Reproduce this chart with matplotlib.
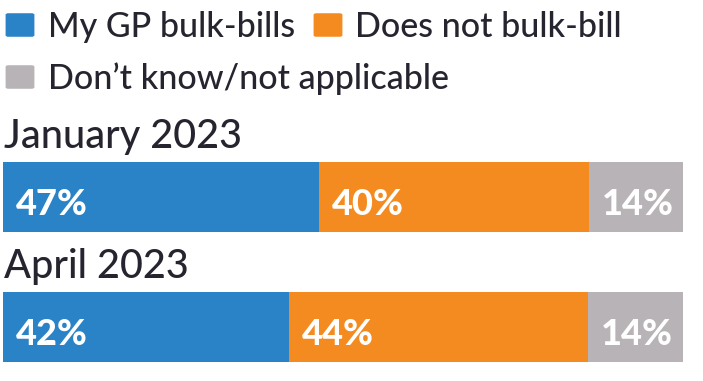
import matplotlib.pyplot as plt
from matplotlib.patches import FancyBboxPatch

# survey data
periods = ['January 2023', 'April 2023']
bulk_bills = [47, 42]
does_not = [40, 44]
dont_know = [14, 14]

series_names = ['My GP bulk-bills', 'Does not bulk-bill', 'Don\u2019t know/not applicable']
colors = ['#2a82c7', '#f48b20', '#b8b3b6']
text_color = '#26242f'

plt.rcParams['font.family'] = ['Lato', 'DejaVu Sans']

W, H = 703, 381
fig = plt.figure(figsize=(W / 100, H / 100), dpi=100)
fig.patch.set_facecolor('white')

def fx(px):
    return px / W

def fy(py):
    return 1 - py / H

# bars axis: pixel span x 3..683, y 162..362
ax = fig.add_axes([fx(3), fy(362), fx(680), (362 - 162) / H])
ax.set_xlim(0, 100)
bar_h = 70 / 130
ax.set_ylim(-bar_h / 2, 1 + bar_h / 2)
ax.axis('off')

ypos = [1, 0]
for i, y in enumerate(ypos):
    vals = [bulk_bills[i], does_not[i], dont_know[i]]
    total = sum(vals)
    left = 0
    for v, c in zip(vals, colors):
        w = v / total * 100
        ax.barh(y, w, left=left, height=bar_h, color=c, edgecolor='none')
        ax.text(left + 1.9, y - 0.06, f'{v}%', color='white', fontsize=26,
                fontweight='black', va='center', ha='left')
        left += w

# period titles
for lbl, py in zip(periods, [148, 278]):
    fig.text(fx(4), fy(py), lbl, fontsize=28.5, color=text_color,
             fontweight='medium', ha='left', va='baseline')

# legend
legend_items = [(5, 12, 48), (313, 12, 355), (5, 64, 48)]
for (sx, sy, tx), name, c in zip(legend_items, series_names, colors):
    sq = FancyBboxPatch((fx(sx + 2), fy(sy + 26 - 2)), fx(26), 22 / H,
                        boxstyle='round,pad=0.002,rounding_size=0.004',
                        transform=fig.transFigure, facecolor=c, edgecolor='none')
    fig.add_artist(sq)
    fig.text(fx(tx), fy(sy + 25), name, fontsize=24.5, color=text_color,
             fontweight='medium', ha='left', va='baseline')

fig.savefig('out.png', dpi=100, facecolor='white')
